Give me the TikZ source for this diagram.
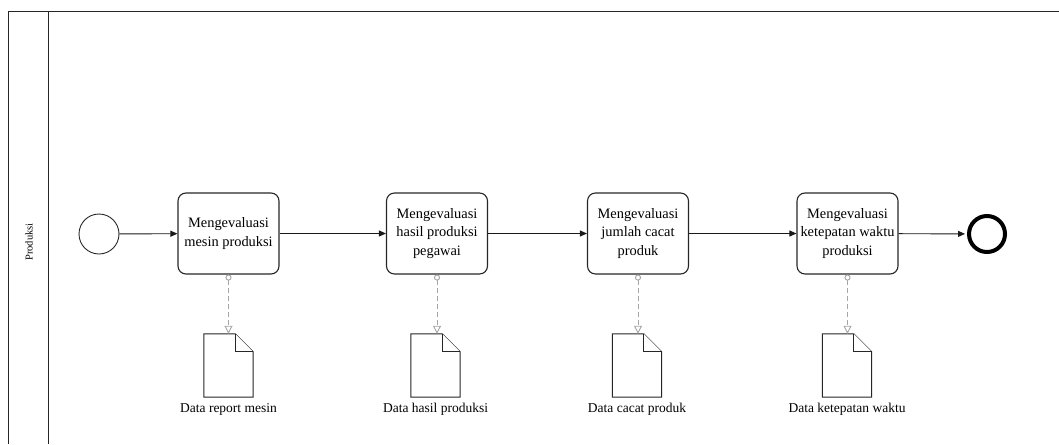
\documentclass[tikz,border=0pt]{standalone}
\usepackage{fontspec}
\setmainfont{Liberation Serif}
\usetikzlibrary{arrows.meta,positioning}
\definecolor{assoc}{RGB}{165,165,165}
\tikzset{
  task/.style={draw=black!85, line width=1.1pt, rounded corners=8pt, minimum width=101pt, minimum height=81pt, align=center, font=\fontsize{14.4}{18.5}\selectfont, inner sep=1pt},
  startev/.style={circle, draw=black!85, line width=0.9pt, minimum size=40pt, inner sep=0pt},
  endev/.style={circle, draw=black, line width=4pt, minimum size=40pt, inner sep=0pt},
  flow/.style={line width=0.9pt, draw=black!90, -{Triangle[length=7pt,width=6pt]}},
  assocline/.style={draw=assoc, line width=0.9pt, dash pattern=on 5pt off 3pt, {Circle[open,length=6pt,width=6pt]}-{Triangle[open,length=8pt,width=8pt]}},
  docbox/.style={minimum width=49pt, minimum height=63pt, inner sep=0pt},
  docshape/.style={draw=black!85, line width=1pt, fill=white},
  doclabel/.style={font=\fontsize{13.5}{16}\selectfont, inner sep=0pt},
  lane/.style={draw=black!85, line width=1pt}
}
\newcommand{\docfold}[1]{%
  \draw[docshape] (#1.north west) -- ([xshift=-18pt]#1.north east) -- ([yshift=-18pt]#1.north east) -- (#1.south east) -- (#1.south west) -- cycle;
  \draw[docshape] ([xshift=-18pt]#1.north east) -- ([xshift=-18pt,yshift=-18pt]#1.north east) -- ([yshift=-18pt]#1.north east);
}
\begin{document}
\begin{tikzpicture}[x=1pt,y=-1pt]
\useasboundingbox (0,0) rectangle (1059,444);
% lane
\coordinate (tl) at (8,12);
\coordinate (tr) at (1059,12);
\coordinate (bl) at (8,444);
\coordinate (dt) at (48,12);
\coordinate (db) at (48,444);
\draw[lane] (tr) -- (tl) -- (bl);
\draw[lane] (dt) -- (db);
\node[rotate=90, font=\fontsize{10.5}{12}\selectfont] (lanelabel) at (29,242) {Produksi};
% events and tasks
\node[startev] (start) at (99,234) {};
\node[task] (t1) at (228.5,233.5) {Mengevaluasi\\mesin produksi};
\node[task] (t2) at (437,233.5) {Mengevaluasi\\hasil produksi\\pegawai};
\node[task] (t3) at (638,233.5) {Mengevaluasi\\jumlah cacat\\produk};
\node[task] (t4) at (847.5,233.5) {Mengevaluasi\\ketepatan waktu\\produksi};
\node[endev, minimum size=36pt] (end) at (987,234) {};
% flows
\draw[flow] (start) -- (t1);
\draw[flow] (t1) -- (t2);
\draw[flow] (t2) -- (t3);
\draw[flow] (t3) -- (t4);
\draw[flow, shorten >=2pt] (t4) -- (end);
% data objects
\node[docbox] (d1) at (228.5,365.5) {};
\node[docbox] (d2) at (435.5,365.5) {};
\node[docbox] (d3) at (637,365.5) {};
\node[docbox] (d4) at (847,365.5) {};
\docfold{d1}
\docfold{d2}
\docfold{d3}
\docfold{d4}
\node[doclabel, below=6pt of d1] (l1) {Data report mesin};
\node[doclabel, below=6pt of d2] (l2) {Data hasil produksi};
\node[doclabel, below=6pt of d3] (l3) {Data cacat produk};
\node[doclabel, below=6pt of d4] (l4) {Data ketepatan waktu};
% associations
\draw[assocline] (t1.south) -- (t1.south |- d1.north);
\draw[assocline] (t2.south) -- (t2.south |- d2.north);
\draw[assocline] (t3.south) -- (t3.south |- d3.north);
\draw[assocline] (t4.south) -- (t4.south |- d4.north);
\end{tikzpicture}
\end{document}
